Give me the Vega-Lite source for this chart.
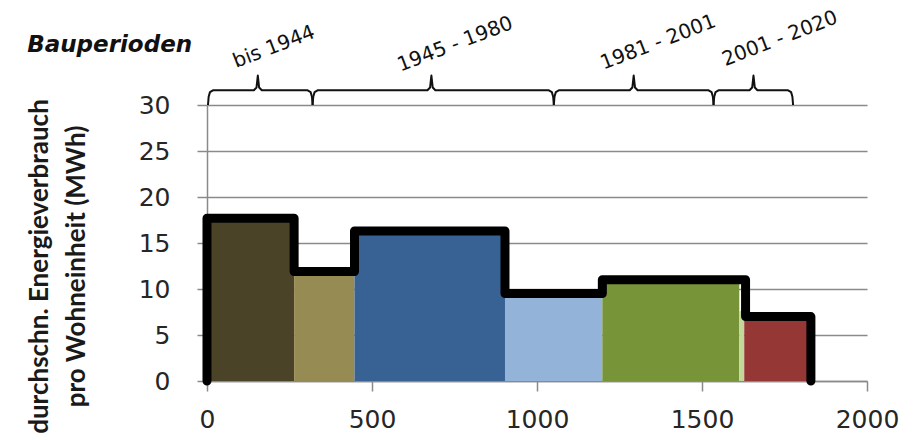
{
  "$schema": "https://vega.github.io/schema/vega-lite/v6.json",
  "width": 660,
  "height": 276,
  "autosize": {"type": "none"},
  "padding": {"left": 207, "top": 105, "right": 50, "bottom": 59},
  "background": "white",
  "config": {"view": {"stroke": null}},
  "datasets": {
    "bars": [
      {"seg": "a", "x": 0, "xe": 264, "y": 17.7},
      {"seg": "b", "x": 264, "xe": 447, "y": 11.9},
      {"seg": "c", "x": 447, "xe": 903, "y": 16.3},
      {"seg": "d", "x": 903, "xe": 1198, "y": 9.5},
      {"seg": "e", "x": 1198, "xe": 1613, "y": 11.0},
      {"seg": "f", "x": 1613, "xe": 1628, "y": 7.6},
      {"seg": "g", "x": 1628, "xe": 1825, "y": 7.0}
    ],
    "outline": [
      {"i": 0, "x": 0, "y": 0},
      {"i": 1, "x": 0, "y": 17.7},
      {"i": 2, "x": 264, "y": 17.7},
      {"i": 3, "x": 264, "y": 11.9},
      {"i": 4, "x": 447, "y": 11.9},
      {"i": 5, "x": 447, "y": 16.3},
      {"i": 6, "x": 903, "y": 16.3},
      {"i": 7, "x": 903, "y": 9.5},
      {"i": 8, "x": 1198, "y": 9.5},
      {"i": 9, "x": 1198, "y": 11.0},
      {"i": 10, "x": 1632, "y": 11.0},
      {"i": 11, "x": 1632, "y": 7.0},
      {"i": 12, "x": 1830, "y": 7.0},
      {"i": 13, "x": 1830, "y": 0}
    ],
    "brackets": [
      {"b": 1, "i": 0, "x": 3, "y": 30.0},
      {"b": 1, "i": 1, "x": 5, "y": 30.9},
      {"b": 1, "i": 2, "x": 9, "y": 31.4},
      {"b": 1, "i": 3, "x": 18, "y": 31.6},
      {"b": 1, "i": 4, "x": 142, "y": 31.6},
      {"b": 1, "i": 5, "x": 150, "y": 31.9},
      {"b": 1, "i": 6, "x": 154, "y": 33.2},
      {"b": 1, "i": 7, "x": 158, "y": 31.9},
      {"b": 1, "i": 8, "x": 166, "y": 31.6},
      {"b": 1, "i": 9, "x": 305, "y": 31.6},
      {"b": 1, "i": 10, "x": 314, "y": 31.4},
      {"b": 1, "i": 11, "x": 318, "y": 30.9},
      {"b": 1, "i": 12, "x": 320, "y": 30.0},
      {"b": 2, "i": 0, "x": 320, "y": 30.0},
      {"b": 2, "i": 1, "x": 322, "y": 30.9},
      {"b": 2, "i": 2, "x": 326, "y": 31.4},
      {"b": 2, "i": 3, "x": 335, "y": 31.6},
      {"b": 2, "i": 4, "x": 668, "y": 31.6},
      {"b": 2, "i": 5, "x": 676, "y": 31.9},
      {"b": 2, "i": 6, "x": 680, "y": 33.2},
      {"b": 2, "i": 7, "x": 684, "y": 31.9},
      {"b": 2, "i": 8, "x": 692, "y": 31.6},
      {"b": 2, "i": 9, "x": 1036, "y": 31.6},
      {"b": 2, "i": 10, "x": 1045, "y": 31.4},
      {"b": 2, "i": 11, "x": 1049, "y": 30.9},
      {"b": 2, "i": 12, "x": 1051, "y": 30.0},
      {"b": 3, "i": 0, "x": 1051, "y": 30.0},
      {"b": 3, "i": 1, "x": 1053, "y": 30.9},
      {"b": 3, "i": 2, "x": 1057, "y": 31.4},
      {"b": 3, "i": 3, "x": 1066, "y": 31.6},
      {"b": 3, "i": 4, "x": 1281, "y": 31.6},
      {"b": 3, "i": 5, "x": 1289, "y": 31.9},
      {"b": 3, "i": 6, "x": 1293, "y": 33.2},
      {"b": 3, "i": 7, "x": 1297, "y": 31.9},
      {"b": 3, "i": 8, "x": 1305, "y": 31.6},
      {"b": 3, "i": 9, "x": 1520, "y": 31.6},
      {"b": 3, "i": 10, "x": 1529, "y": 31.4},
      {"b": 3, "i": 11, "x": 1533, "y": 30.9},
      {"b": 3, "i": 12, "x": 1535, "y": 30.0},
      {"b": 4, "i": 0, "x": 1535, "y": 30.0},
      {"b": 4, "i": 1, "x": 1537, "y": 30.9},
      {"b": 4, "i": 2, "x": 1541, "y": 31.4},
      {"b": 4, "i": 3, "x": 1550, "y": 31.6},
      {"b": 4, "i": 4, "x": 1644, "y": 31.6},
      {"b": 4, "i": 5, "x": 1652, "y": 31.9},
      {"b": 4, "i": 6, "x": 1656, "y": 33.2},
      {"b": 4, "i": 7, "x": 1660, "y": 31.9},
      {"b": 4, "i": 8, "x": 1668, "y": 31.6},
      {"b": 4, "i": 9, "x": 1761, "y": 31.6},
      {"b": 4, "i": 10, "x": 1770, "y": 31.4},
      {"b": 4, "i": 11, "x": 1774, "y": 30.9},
      {"b": 4, "i": 12, "x": 1776, "y": 30.0}
    ],
    "labels": [
      {"label": "bis 1944", "x": 203, "y": 36.3},
      {"label": "1945 - 1980", "x": 752, "y": 36.6},
      {"label": "1981 - 2001", "x": 1367, "y": 36.8},
      {"label": "2001 - 2020", "x": 1736, "y": 37.2}
    ],
    "heading": [
      {"label": "Bauperioden", "x": -545, "y": 35.8}
    ]
  },
  "encoding": {
    "x": {
      "field": "x", "type": "quantitative",
      "scale": {"domain": [0, 2000], "nice": false},
      "axis": {
        "values": [0, 500, 1000, 1500, 2000],
        "format": "d",
        "grid": false, "title": null,
        "domainColor": "#8a8a8a", "domainWidth": 1.5,
        "tickColor": "#8a8a8a", "tickWidth": 1.5, "tickSize": 10,
        "labelFont": "DejaVu Sans", "labelFontSize": 25, "labelColor": "#262626",
        "labelPadding": 16, "labelFlush": false
      }
    },
    "y": {
      "field": "y", "type": "quantitative",
      "scale": {"domain": [0, 30], "nice": false},
      "axis": {
        "values": [0, 5, 10, 15, 20, 25, 30],
        "grid": true, "gridColor": "#8a8a8a", "gridWidth": 1.5,
        "domainColor": "#8a8a8a", "domainWidth": 1.5,
        "tickColor": "#8a8a8a", "tickWidth": 1.5, "tickSize": 10,
        "labelFont": "DejaVu Sans", "labelFontSize": 25, "labelColor": "#262626",
        "labelPadding": 27, "labelFlush": false,
        "title": ["durchschn. Energieverbrauch", "pro Wohneinheit (MWh)"],
        "titleFont": "Lato", "titleFontSize": 26, "titleFontWeight": "bold",
        "titleColor": "#1a1a1a", "titleLineHeight": 37,
        "titleAngle": 270, "titleAlign": "center", "titleBaseline": "middle",
        "titleX": -168, "titleY": 161
      }
    }
  },
  "layer": [
    {
      "data": {"name": "bars"},
      "mark": {"type": "rect"},
      "encoding": {
        "x2": {"field": "xe"},
        "y2": {"datum": 0},
        "color": {
          "field": "seg", "type": "nominal",
          "scale": {
            "domain": ["a", "b", "c", "d", "e", "f", "g"],
            "range": ["#4a4328", "#958b53", "#386293", "#93b3d9", "#779439", "#c4d79b", "#953735"]
          },
          "legend": null
        }
      }
    },
    {
      "data": {"name": "outline"},
      "mark": {"type": "line", "color": "#000000", "strokeWidth": 9, "strokeCap": "round", "strokeJoin": "round"},
      "encoding": {
        "order": {"field": "i", "type": "quantitative"}
      }
    },
    {
      "data": {"name": "brackets"},
      "mark": {"type": "line", "color": "#111111", "strokeWidth": 2, "strokeJoin": "round"},
      "encoding": {
        "detail": {"field": "b", "type": "nominal"},
        "order": {"field": "i", "type": "quantitative"}
      }
    },
    {
      "data": {"name": "labels"},
      "mark": {"type": "text", "angle": 339, "font": "DejaVu Sans", "fontSize": 20, "color": "#111111", "align": "center", "baseline": "middle"},
      "encoding": {
        "text": {"field": "label", "type": "nominal"}
      }
    },
    {
      "data": {"name": "heading"},
      "mark": {"type": "text", "font": "DejaVu Sans", "fontSize": 23, "fontStyle": "italic", "fontWeight": "bold", "color": "#111111", "align": "left", "baseline": "alphabetic"},
      "encoding": {
        "text": {"field": "label", "type": "nominal"}
      }
    }
  ]
}
